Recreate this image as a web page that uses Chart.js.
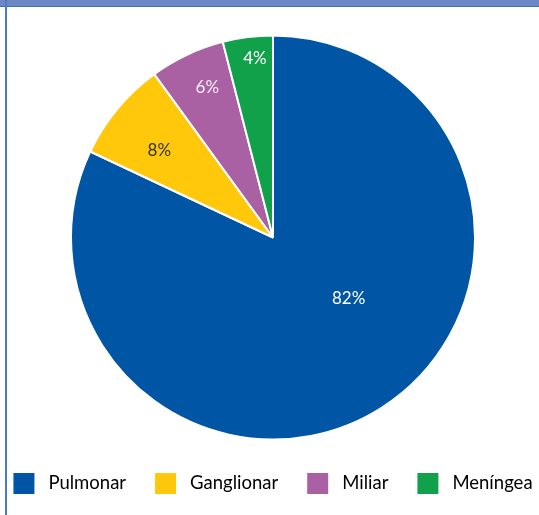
<!DOCTYPE html>
<html>
<head>
<meta charset="utf-8">
<script src="https://cdn.jsdelivr.net/npm/chart.js@4.4.1/dist/chart.umd.min.js"></script>
<style>
  html, body { margin: 0; padding: 0; background: #fff; overflow: hidden; }
  #page { position: relative; width: 539px; height: 515px; overflow: hidden; }
  #chart { position: absolute; left: -20px; top: 0; }
  #band { position: absolute; left: 0; top: 0; width: 539px; height: 6px; background: #6d86c4; border-bottom: 1px solid #3a72c0; }
  #leftLine { position: absolute; left: 5px; top: 0; width: 2px; height: 515px; background: #4a7cc6; }
</style>
</head>
<body>
<div id="page">
  <canvas id="chart" width="586" height="504"></canvas>
  <div id="band"></div>
  <div id="leftLine"></div>
</div>
<script>
// data
const categories = ["Pulmonar", "Ganglionar", "Miliar", "Meníngea"];
const shares = [82, 8, 6, 4];
const sliceColors = ["#0055a5", "#ffc80b", "#a961a4", "#12a14b"];

// label placement inside each slice (angle fraction, radius fraction)
const labelAngle = [0.436, 0.43, 0.57, 0.6];
const labelRadius = [0.48, 0.71, 0.81, 0.89];
const labelColors = ["#ffffff", "#333333", "#f4eef6", "#ffffff"];

const sliceLabels = {
  id: "sliceLabels",
  afterDatasetsDraw(chart) {
    const ctx = chart.ctx;
    const meta = chart.getDatasetMeta(0);
    ctx.save();
    ctx.font = "17px Lato";
    ctx.textAlign = "center";
    ctx.textBaseline = "middle";
    meta.data.forEach((arc, i) => {
      const p = arc.getProps(["x", "y", "startAngle", "endAngle", "outerRadius"], true);
      const a = p.startAngle + labelAngle[i] * (p.endAngle - p.startAngle);
      const r = labelRadius[i] * p.outerRadius;
      ctx.fillStyle = labelColors[i];
      ctx.fillText(shares[i] + "%", p.x + Math.cos(a) * r, p.y + Math.sin(a) * r);
    });
    ctx.restore();
  }
};

new Chart(document.getElementById("chart"), {
  type: "pie",
  data: {
    labels: categories,
    datasets: [{
      data: shares,
      backgroundColor: sliceColors,
      borderColor: "#ffffff",
      borderWidth: 2
    }]
  },
  options: {
    responsive: false,
    animation: false,
    devicePixelRatio: 1,
    radius: 202,
    layout: { padding: { top: 31, bottom: 0, left: 0, right: 0 } },
    plugins: {
      tooltip: { enabled: false },
      legend: {
        position: "bottom",
        labels: {
          boxWidth: 21,
          boxHeight: 21,
          padding: 29,
          color: "#4a4a4a",
          font: { family: "Lato", size: 18.5 },
          generateLabels(chart) {
            return categories.map((c, i) => ({
              text: " " + c,
              fillStyle: sliceColors[i],
              strokeStyle: sliceColors[i],
              lineWidth: 0,
              hidden: false,
              index: i
            }));
          }
        }
      }
    }
  },
  plugins: [sliceLabels]
});
</script>
</body>
</html>
